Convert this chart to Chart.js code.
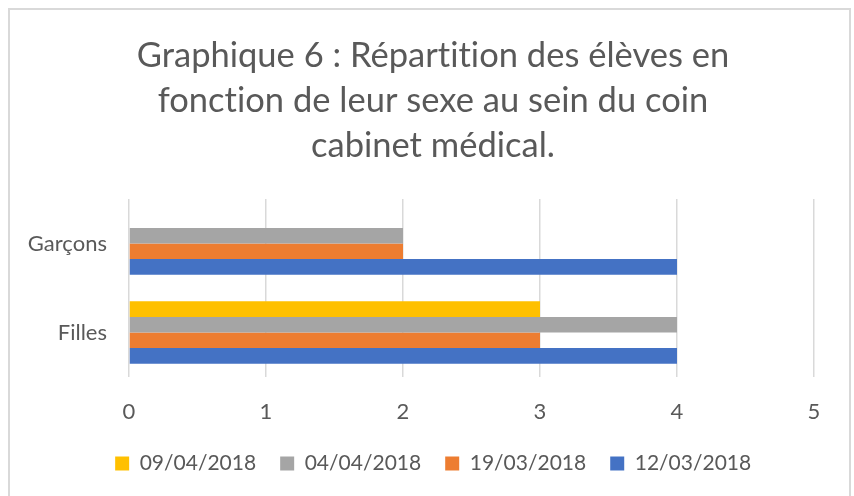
<!DOCTYPE html>
<html>
<head>
<meta charset="utf-8">
<script src="https://cdn.jsdelivr.net/npm/chart.js@4/dist/chart.umd.min.js"></script>
<style>
  html, body { margin: 0; padding: 0; background: #ffffff; }
  #wrap { width: 854px; height: 496px; position: relative; }
</style>
</head>
<body>
<div id="wrap"><canvas id="c" width="854" height="496"></canvas></div>
<script>
const titleLines = ["Graphique 6 : Répartition des élèves en", "fonction de leur sexe au sein du coin", "cabinet médical."];
const categories = ["Garçons", "Filles"];
const seriesNames = ["09/04/2018", "04/04/2018", "19/03/2018", "12/03/2018"];
const seriesColors = ["#FFC000", "#A5A5A5", "#ED7D31", "#4472C4"];
const s_09_04 = [0, 3];
const s_04_04 = [2, 4];
const s_19_03 = [2, 3];
const s_12_03 = [4, 4];
const xTicks = [0, 1, 2, 3, 4, 5];

const seriesValues = [s_09_04, s_04_04, s_19_03, s_12_03];
const FONT = "Lato";
const TXT = "#595959";

const frame = {
  id: "frame",
  beforeDraw(chart) {
    const ctx = chart.ctx;
    ctx.save();
    ctx.fillStyle = "#ffffff";
    ctx.fillRect(0, 0, chart.width, chart.height);
    ctx.strokeStyle = "#d9d9d9";
    ctx.lineWidth = 2;
    ctx.strokeRect(9, 9, 841, 500);
    ctx.restore();
    if ("letterSpacing" in ctx) ctx.letterSpacing = "0.01px";
  }
};

new Chart(document.getElementById("c"), {
  type: "bar",
  data: {
    labels: categories,
    datasets: seriesNames.map((n, i) => ({
      label: n,
      data: seriesValues[i],
      backgroundColor: seriesColors[i],
      borderWidth: 0,
      categoryPercentage: 0.70,
      barPercentage: 1.0
    }))
  },
  options: {
    indexAxis: "y",
    responsive: false,
    animation: false,
    devicePixelRatio: 1,
    layout: { padding: { left: 12, right: 0, top: 0, bottom: 12 } },
    plugins: {
      title: {
        display: true,
        text: titleLines,
        color: TXT,
        font: { family: FONT, size: 34.5, weight: "normal", lineHeight: 45 / 34.5 },
        padding: { top: 33.5, bottom: 30.5 }
      },
      legend: {
        position: "bottom",
        labels: {
          color: TXT,
          font: { family: FONT, size: 21 },
          boxWidth: 14,
          boxHeight: 14,
          padding: 24
        }
      },
      tooltip: { enabled: false }
    },
    scales: {
      x: {
        min: 0,
        max: 5,
        afterBuildTicks(scale) { scale.ticks = xTicks.map(v => ({ value: v })); },
        afterFit(scale) { scale.height = 52; },
        grid: { color: "#d9d9d9", lineWidth: 1.5, drawTicks: false },
        border: { display: false },
        ticks: { color: TXT, font: { family: FONT, size: 22 }, padding: 22 }
      },
      y: {
        afterFit(scale) { scale.width = 117; },
        grid: { display: false, drawTicks: false },
        border: { display: false },
        ticks: { color: TXT, font: { family: FONT, size: 22 }, padding: 22 }
      },
      yRight: {
        type: "category",
        position: "right",
        afterFit(scale) { scale.width = 40; },
        grid: { display: false, drawTicks: false },
        border: { display: false },
        ticks: { display: false }
      }
    }
  },
  plugins: [frame]
});
</script>
</body>
</html>
